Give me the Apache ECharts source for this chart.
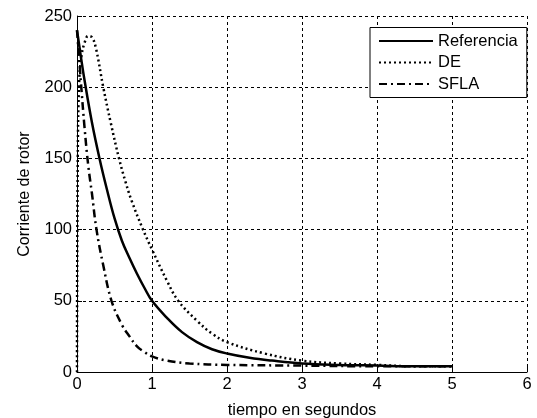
<!DOCTYPE html>
<html><head><meta charset="utf-8">
<script src="https://cdn.jsdelivr.net/npm/echarts@6/dist/echarts.min.js"></script>
<style>html,body{margin:0;padding:0;background:#fff}#c{width:537px;height:418px}</style>
</head><body><div id="c"></div>
<script>
const refT = [0,0.05,0.1,0.2,0.3,0.4,0.5,0.6,0.7,0.8,0.9,1.0,1.2,1.4,1.6,1.8,2.0,2.3,2.6,3.0,3.5,4.0,4.5,5.0];
const refY = [240,222,205,175,150,128,108,92,80,69,59,50,38,28,21,16,13,10,8,6,5,4.5,4,4];
const deT = [0,0.01,0.03,0.06,0.1,0.15,0.2,0.25,0.35,0.45,0.56,0.65,0.73,0.88,1.0,1.2,1.35,1.6,1.8,2.0,2.5,3.0,3.5,4,4.5,5];
const deY = [0,150,205,222,231,236,235,228,200,175,150,133,120,100,86,64,50,36,27,21,13,8,6,5,4,4];
const sflaT = [0,0.05,0.1,0.15,0.2,0.26,0.35,0.46,0.6,0.7,0.8,0.9,1.0,1.2,1.5,2,3,4,5];
const sflaY = [240,205,172,145,125,100,75,50,33,25,18,14,11,8,6,5,4.5,4,4];
const names = ['Referencia','DE','SFLA'];
const xTitle = 'tiempo en segundos';
const yTitle = 'Corriente de rotor';

const zip = (a,b) => a.map((v,i)=>[v,b[i]]);
const font = 'Liberation Sans, Arial, sans-serif';
const chart = echarts.init(document.getElementById('c'));
const styles = [
  {type:'solid', width:2.5},
  {type:[2,3], width:2.5},
  {type:[8,4,2,4], width:2.5}
];
const datas = [zip(refT,refY), zip(deT,deY), zip(sflaT,sflaY)];
chart.setOption({
  animation:false,
  grid:{left:77,right:10,top:16,bottom:46, containLabel:false, outerBoundsMode:'none'},
  legend:{
    orient:'vertical', left:370, top:27.5,
    backgroundColor:'#fff', borderColor:'#000', borderWidth:1,
    padding:[5,9,5,8], itemGap:4.5, itemWidth:54, itemHeight:14,
    itemStyle:{opacity:0},
    textStyle:{fontFamily:font, fontSize:16.5, lineHeight:17, color:'#000'},
    data:names
  },
  xAxis:{
    type:'value', min:0, max:6, interval:1,
    name:xTitle, nameLocation:'middle', nameGap:30,
    nameTextStyle:{fontFamily:font, fontSize:16.5, color:'#000'},
    axisLine:{onZero:false, lineStyle:{color:'#000', width:1}},
    axisTick:{inside:true, length:5, lineStyle:{color:'#000'}},
    axisLabel:{fontFamily:font, fontSize:16.5, color:'#000', margin:4},
    splitLine:{show:true, lineStyle:{color:'#000', type:[3,3], width:1}}
  },
  yAxis:{
    type:'value', min:0, max:250, interval:50,
    name:yTitle, nameLocation:'middle', nameGap:44,
    nameTextStyle:{fontFamily:font, fontSize:16, color:'#000'},
    axisLine:{onZero:false, lineStyle:{color:'#000', width:1}},
    axisTick:{inside:true, length:5, lineStyle:{color:'#000'}},
    axisLabel:{fontFamily:font, fontSize:16.5, color:'#000', margin:5},
    splitLine:{show:true, lineStyle:{color:'#000', type:[3,3], width:1}}
  },
  series: names.map((n,i)=>({
    name:n, type:'line', data:datas[i], showSymbol:false, symbol:'none',
    smooth:0.4,
    lineStyle:Object.assign({color:'#000'}, styles[i]),
    itemStyle:{color:'#000'}
  }))
});
</script></body></html>
